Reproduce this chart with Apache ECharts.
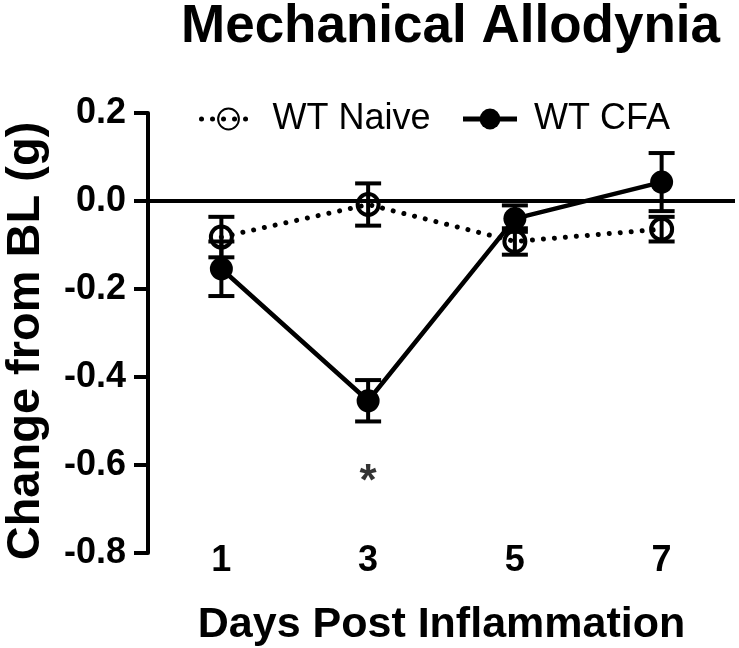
<!DOCTYPE html>
<html>
<head>
<meta charset="utf-8">
<script src="https://cdn.jsdelivr.net/npm/echarts@6/dist/echarts.min.js"></script>
<style>
html,body{margin:0;padding:0;background:#fff;}
#chart{width:739px;height:648px;}
</style>
</head>
<body>
<div id="chart"></div>
<script>
// ---- data ----
var days = [1, 3, 5, 7];
var xTickLabels = ['1', '3', '5', '7'];
var naiveMean = [-0.082, -0.008, -0.092, -0.064];
var naiveSem = [0.046, 0.048, 0.030, 0.028];
var cfaMean = [-0.154, -0.454, -0.040, 0.043];
var cfaSem = [0.062, 0.047, 0.030, 0.066];
var yTicks = [-0.8, -0.6, -0.4, -0.2, 0.0, 0.2];
var starDay = [3];
var starValue = [-0.64];
var seriesNames = ['WT Naive', 'WT CFA'];

var FONT = 'Liberation Sans, Arial, Helvetica, sans-serif';

function pts(xs, ys) { return xs.map(function (x, i) { return [x, ys[i]]; }); }
function errs(xs, ys, es) { return xs.map(function (x, i) { return [x, ys[i] - es[i], ys[i] + es[i]]; }); }

function errRender(params, api) {
  var x = api.value(0);
  var lo = api.coord([x, api.value(1)]);
  var hi = api.coord([x, api.value(2)]);
  var hw = 13;
  var st = { stroke: '#000', lineWidth: 4 };
  return {
    type: 'group',
    children: [
      { type: 'line', shape: { x1: lo[0], y1: lo[1], x2: hi[0], y2: hi[1] }, style: st },
      { type: 'line', shape: { x1: lo[0] - hw, y1: lo[1], x2: lo[0] + hw, y2: lo[1] }, style: st },
      { type: 'line', shape: { x1: hi[0] - hw, y1: hi[1], x2: hi[0] + hw, y2: hi[1] }, style: st }
    ]
  };
}

var chart = echarts.init(document.getElementById('chart'), null, { renderer: 'canvas' });
chart.setOption({
  animation: false,
  backgroundColor: '#fff',
  title: {
    text: 'Mechanical Allodynia',
    left: 176, top: -4,
    textStyle: { fontFamily: FONT, fontWeight: 'bold', fontSize: 53, color: '#000' }
  },
  legend: {
    data: [
      { name: seriesNames[0], lineStyle: { width: 5, type: [0.01, 11], cap: 'round', color: '#000' } },
      { name: seriesNames[1], lineStyle: { width: 5, color: '#000' } }
    ],
    left: 194, top: 96,
    itemWidth: 54, itemHeight: 26, itemGap: 30,
    textStyle: { fontFamily: FONT, fontSize: 36, color: '#000', padding: [0, 0, 0, 12] }
  },
  grid: { left: 148, right: 4, top: 113, bottom: 95, containLabel: false, outerBoundsMode: 'none' },
  xAxis: {
    type: 'value', min: 0, max: 8, interval: 1,
    axisLine: { show: false }, axisTick: { show: false }, splitLine: { show: false },
    offset: -10,
    axisLabel: {
      margin: 0,
      fontFamily: FONT, fontWeight: 'bold', fontSize: 36, color: '#000',
      formatter: function (v) { var i = days.indexOf(v); return i >= 0 ? xTickLabels[i] : ''; }
    },
    name: 'Days Post Inflammation', nameLocation: 'middle', nameGap: 61,
    nameTextStyle: { fontFamily: FONT, fontWeight: 'bold', fontSize: 43, color: '#000' }
  },
  yAxis: {
    type: 'value', min: yTicks[0], max: yTicks[yTicks.length - 1], interval: 0.2,
    axisLine: { show: true, onZero: false, lineStyle: { color: '#000', width: 4 } },
    axisTick: { show: true, length: 14, lineStyle: { color: '#000', width: 4 } },
    splitLine: { show: false },
    axisLabel: {
      margin: 22,
      fontFamily: FONT, fontWeight: 'bold', fontSize: 36, color: '#000',
      formatter: function (v) { var s = (Math.abs(v) < 1e-9 ? 0 : v).toFixed(1); return s; }
    },
    name: 'Change from BL (g)', nameLocation: 'middle', nameGap: 98,
    nameTextStyle: { fontFamily: FONT, fontWeight: 'bold', fontSize: 47, color: '#000', padding: [0, 16, 0, 0] }
  },
  series: [
    {
      type: 'custom', name: 'naiveErr', renderItem: errRender, data: errs(days, naiveMean, naiveSem), z: 3,
      encode: { x: 0, y: [1, 2] }, silent: true
    },
    {
      type: 'custom', name: 'cfaErr', renderItem: errRender, data: errs(days, cfaMean, cfaSem), z: 3,
      encode: { x: 0, y: [1, 2] }, silent: true
    },
    {
      type: 'line', name: seriesNames[0], data: pts(days, naiveMean), z: 4,
      symbol: 'circle', symbolSize: 21,
      lineStyle: { color: '#000', width: 5, type: [0.01, 11], cap: 'round' },
      itemStyle: { color: 'rgba(255,255,255,0)', borderColor: '#000', borderWidth: 4 },
      markLine: {
        silent: true, symbol: 'none', label: { show: false },
        lineStyle: { color: '#000', width: 4, type: 'solid' },
        data: [{ yAxis: 0 }]
      }
    },
    {
      type: 'line', name: seriesNames[1], data: pts(days, cfaMean), z: 5,
      symbol: 'circle', symbolSize: 23,
      lineStyle: { color: '#000', width: 4.5, type: 'solid' },
      itemStyle: { color: '#000', borderColor: '#000', borderWidth: 0 }
    },
    {
      type: 'scatter', name: 'sig', data: pts(starDay, starValue), symbolSize: 0, silent: true,
      label: { show: true, position: 'inside', formatter: '*', fontFamily: FONT, fontWeight: 'bold', fontSize: 44, color: '#000' }
    }
  ]
});
</script>
</body>
</html>
